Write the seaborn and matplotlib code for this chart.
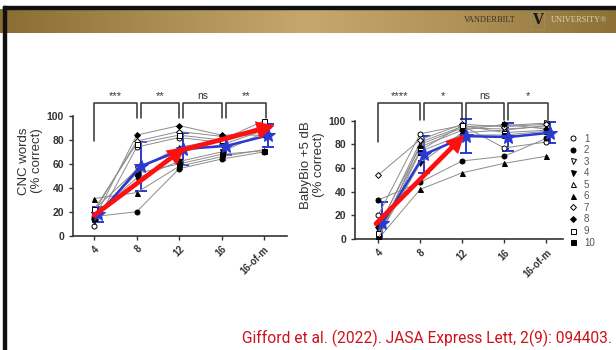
import numpy as np
import pandas as pd
import matplotlib
matplotlib.use("Agg")
import matplotlib.pyplot as plt
from matplotlib.colors import LinearSegmentedColormap
import seaborn as sns

# Conditions on the x axis (number of channels)
conditions = ["4", "8", "12", "16", "16-of-m"]
subjects = [str(i) for i in range(1, 11)]

# CNC words (% correct), one row per subject
cnc_scores = [
    [8, 74, 82, 78, 90],
    [16, 20, 56, 64, 70],
    [12, 56, 70, 76, 88],
    [18, 48, 62, 70, 86],
    [22, 55, 74, 80, 92],
    [31, 36, 58, 66, 72],
    [20, 79, 87, 83, 89],
    [14, 84, 92, 84, 84],
    [22, 77, 84, 80, 96],
    [15, 52, 60, 68, 71],
]

# BabyBio +5 dB (% correct), one row per subject
babybio_scores = [
    [20, 89, 96, 77, 82],
    [33, 48, 66, 70, 85],
    [8, 82, 95, 96, 98],
    [2, 64, 90, 92, 96],
    [0, 80, 94, 93, 95],
    [0, 42, 56, 64, 70],
    [54, 84, 97, 95, 97],
    [10, 78, 92, 97, 93],
    [5, 75, 96, 90, 92],
    [0, 74, 88, 88, 91],
]

cnc_sig = ["***", "**", "ns", "**"]
babybio_sig = ["****", "*", "ns", "*"]

# red trend arrows: (x0, y0, x1, y1) in condition index / percent
cnc_arrows = [(0.0, 17, 2.15, 74), (1.9, 70, 4.25, 92)]
babybio_arrows = [(-0.05, 13, 2.05, 88)]

# marker (shape, open?) for subjects 1..10
subj_markers = [("o", True), ("o", False), ("v", True), ("v", False), ("^", True),
                ("^", False), ("D", True), ("D", False), ("s", True), ("s", False)]


def to_long(scores):
    rows = []
    for s, vals in zip(subjects, scores):
        for i, v in enumerate(vals):
            rows.append({"subject": s, "pos": i, "score": v})
    return pd.DataFrame(rows)


sns.set_style("ticks")
plt.rcParams["font.family"] = ["Liberation Sans", "DejaVu Sans"]

fig = plt.figure(figsize=(6.16, 3.5), dpi=100)
fig.patch.set_facecolor("white")

# slide header bar
bar = fig.add_axes([0, 0.906, 1, 0.0686])
gold = LinearSegmentedColormap.from_list("gold", ["#8a6d33", "#a98c52", "#c6a86f", "#b09258", "#8c7036"])
bar.imshow(np.linspace(0, 1, 256)[None, :], aspect="auto", cmap=gold, extent=[0, 1, 0, 1])
bar.set_axis_off()
fig.add_artist(plt.Rectangle((0.005, 0.974), 0.995, 0.009, transform=fig.transFigure, color="#111111"))
fig.add_artist(plt.Rectangle((0.005, 0.0), 0.005, 0.983, transform=fig.transFigure, color="#111111"))
fig.text(0.795, 0.942, "VANDERBILT", fontsize=6.0, family="Liberation Serif",
         color="#3a3326", ha="center", va="center")
fig.text(0.872, 0.942, "V", fontsize=10, family="DejaVu Serif", color="#1a1a1a",
         ha="center", va="center", weight="bold",
         bbox=dict(boxstyle="square,pad=0.12", fc="none", ec="#9c8a63", lw=0.8))
fig.text(0.940, 0.942, "UNIVERSITY®", fontsize=6.0, family="Liberation Serif",
         color="#dcd0b4", ha="center", va="center")


def draw_panel(ax, scores, sig, arrows, ylabel, leg_top, bottom_leg, top_y):
    df = to_long(scores)
    for s, (m, hollow) in zip(subjects, subj_markers):
        sub = df[df["subject"] == s]
        sns.lineplot(data=sub, x="pos", y="score", ax=ax, color="#8c8c8c", lw=0.7,
                     marker=m, markersize=3.6 if m != "D" else 3.0,
                     markerfacecolor="white" if hollow else "black",
                     markeredgecolor="black", markeredgewidth=0.7, label=s,
                     legend=False, zorder=3)
    # group mean +/- SD, nudged right
    mean_df = df.assign(pos=df["pos"] + 0.1)
    sns.lineplot(data=mean_df, x="pos", y="score", ax=ax, estimator="mean",
                 errorbar="sd", err_style="bars", color="#2a3ad0", lw=1.8,
                 marker="*", markersize=10, markeredgecolor="#2a3ad0",
                 err_kws={"capsize": 4.5, "elinewidth": 1.4, "capthick": 1.4},
                 legend=False, zorder=4)
    for x0, y0, x1, y1 in arrows:
        ax.annotate("", xy=(x1, y1), xytext=(x0, y0), zorder=6,
                    arrowprops=dict(arrowstyle="-|>,head_length=0.75,head_width=0.38",
                                    color="#ff1010", lw=3.4, shrinkA=0, shrinkB=0,
                                    joinstyle="miter"))
    # significance brackets
    for i, lab in enumerate(sig):
        xa = i + (0.1 if i > 0 else 0.0)
        xb = i + 1 + (0.05 if i == 3 else 0.0)
        ya = leg_top if i == 0 else bottom_leg
        ax.plot([xa, xa, xb, xb], [ya, top_y, top_y, bottom_leg], color="#333333",
                lw=1.1, clip_on=False, zorder=2)
        ax.text((xa + xb) / 2, top_y + 1.5, lab, ha="center", va="bottom",
                fontsize=7.5 if lab == "ns" else 8, color="#333333", clip_on=False)
    ax.set_ylim(0, 125)
    ax.set_yticks(range(0, 101, 20))
    ax.set_xticks(range(len(conditions)))
    ax.set_xticklabels(conditions, rotation=45, ha="right", rotation_mode="anchor",
                       fontsize=7, weight="bold", color="#333333")
    ax.tick_params(axis="y", labelsize=7.5, colors="#333333", length=3, width=1)
    ax.tick_params(axis="x", length=3, width=1, colors="#333333", pad=3)
    for lab in ax.get_yticklabels():
        lab.set_weight("bold")
    ax.set_xlabel("")
    ax.set_ylabel(ylabel, fontsize=9.5, color="#333333", labelpad=3, linespacing=1.1)
    sns.despine(ax=ax)
    ax.spines["left"].set_bounds(0, 100)
    for sp in ("left", "bottom"):
        ax.spines[sp].set_color("#333333")
        ax.spines[sp].set_linewidth(1.2)
    ax.set_facecolor("none")


ax1 = fig.add_axes([0.1185, 0.3266, 0.348, 0.4275])
draw_panel(ax1, cnc_scores, cnc_sig, cnc_arrows, "CNC words\n(% correct)", 79, 98, 111)
ax1.set_xlim(-0.5, 4.55)

ax2 = fig.add_axes([0.5763, 0.317, 0.3377, 0.4225])
draw_panel(ax2, babybio_scores, babybio_sig, babybio_arrows, "BabyBio +5 dB\n(% correct)", 82, 101, 115)
ax2.set_xlim(-0.55, 4.4)

handles = ax2.get_lines()[:len(subjects)]
leg = ax2.legend(handles, subjects, loc="upper left", bbox_to_anchor=(1.03, 0.74),
                 frameon=False, handlelength=0, handletextpad=1.1, fontsize=7,
                 labelspacing=0.16, borderaxespad=0)
for t in leg.get_texts():
    t.set_color("#555555")

fig.text(0.994, 0.02, "Gifford et al. (2022). JASA Express Lett, 2(9): 094403.",
         ha="right", va="baseline", fontsize=11.2, color="#d0101a",
         family=["Liberation Sans Narrow", "Roboto", "DejaVu Sans"])

fig.savefig("out.png", dpi=100, facecolor="white")
